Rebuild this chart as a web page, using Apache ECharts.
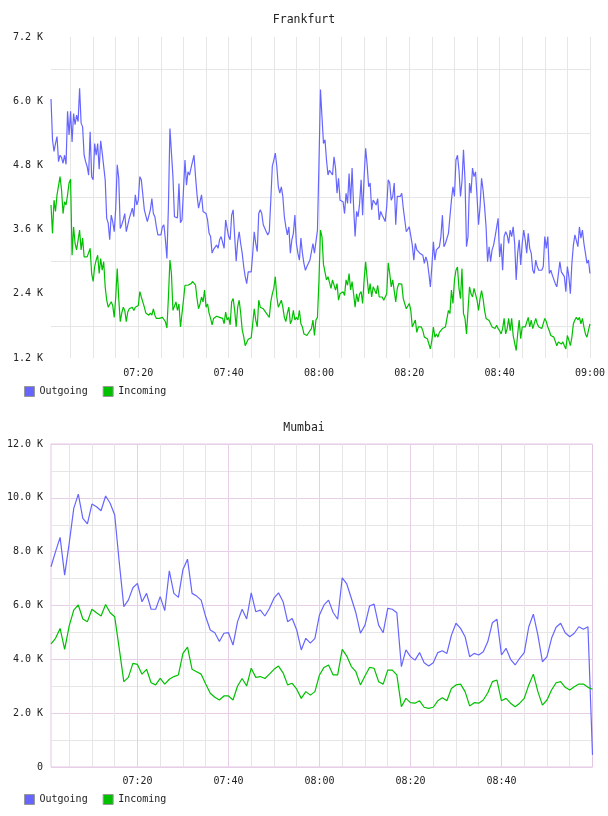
<!DOCTYPE html>
<html lang="en">
<head>
<meta charset="UTF-8">
<title>Frankfurt / Mumbai traffic</title>
<style>
  html, body { margin: 0; padding: 0; background: #fff; }
  #chart { width: 608px; height: 816px; }
</style>
</head>
<body>
<div id="chart"></div>
<script src="https://cdn.jsdelivr.net/npm/echarts@6/dist/echarts.min.js"></script>
<script>
// x values are minutes after 07:00, y values are in thousands (K)

// Frankfurt: one sample every 20 s, first one at 07:00:40
const frankfurtStart = 2 / 3
const frankfurtStep = 1 / 3
const frankfurtOutgoing = [
  6.04,5.28,5.06,5.21,5.34,4.87,4.99,4.95,4.84,4.99,
  4.82,5.81,5.37,5.81,5.24,5.77,5.56,5.74,5.62,6.24,
  5.59,5.52,4.99,4.87,4.78,4.62,5.43,4.59,4.53,5.21,
  4.99,5.21,4.73,5.26,5.04,5.04,4.53,3.81,3.72,3.41,
  3.87,3.75,3.56,4.00,4.81,4.56,3.62,3.69,3.78,3.90,
  3.56,3.59,3.81,3.90,4.00,3.84,4.25,4.06,4.15,4.59,
  4.53,4.53,3.97,3.94,3.75,3.72,3.97,4.18,3.90,3.84,
  3.65,3.50,3.53,3.50,3.65,3.69,3.41,3.06,4.03,5.49,
  5.52,4.59,3.84,3.83,3.82,4.46,3.73,3.78,4.34,4.90,
  4.43,4.68,4.62,4.75,4.87,4.99,4.59,4.25,4.00,4.00,
  4.25,3.94,3.94,3.90,3.78,3.53,3.47,3.16,3.23,3.25,
  3.31,3.25,3.41,3.47,3.50,3.25,3.78,3.79,3.47,3.41,
  3.87,3.97,3.47,3.01,3.37,3.56,3.34,3.16,2.91,2.72,
  2.59,2.81,2.84,2.81,3.16,3.56,3.34,3.19,3.90,3.97,
  3.90,3.69,3.72,3.56,3.50,3.56,4.15,4.78,4.90,5.03,
  4.78,4.40,4.28,4.40,4.22,3.84,3.65,3.50,3.65,3.16,
  3.41,3.53,3.87,3.34,3.16,3.03,3.44,3.16,2.97,2.84,
  2.91,2.97,3.03,3.06,3.34,3.16,3.16,3.59,4.84,6.22,
  5.71,5.21,5.28,4.90,4.62,4.71,4.71,4.62,4.96,4.75,
  4.28,4.56,4.15,4.15,4.12,3.90,4.28,4.09,4.65,4.09,
  4.75,4.03,3.47,3.94,3.84,4.09,4.53,3.87,4.59,5.12,
  4.81,4.40,4.47,3.97,4.15,4.12,4.06,4.18,3.78,3.94,
  3.87,3.81,3.75,4.03,4.53,4.47,4.15,4.22,4.47,3.69,
  4.22,4.25,4.22,4.28,4.00,3.78,3.56,3.53,3.65,3.62,
  3.31,3.03,3.34,3.22,3.19,3.16,3.16,3.12,2.97,3.09,
  3.00,2.78,2.53,2.91,3.37,3.03,3.22,3.25,3.28,3.47,
  3.87,3.28,3.34,3.31,3.53,3.84,4.15,4.40,4.22,4.90,
  4.99,
  4.71,4.22,4.50,5.09,4.53,3.28,3.47,4.47,4.28,4.75,
  4.59,4.68,4.22,3.69,4.03,4.56,4.34,4.03,3.65,3.00,
  3.28,3.00,3.22,3.31,3.47,3.50,3.81,3.09,3.34,2.84,
  3.47,3.56,3.50,3.34,3.59,3.47,3.65,3.34,2.66,3.16,
  3.41,2.94,3.34,3.59,3.41,3.16,3.53,3.25,3.16,2.84,
  2.78,3.03,2.91,2.84,2.87,2.84,2.91,3.47,3.25,3.47,
  2.78,2.84,2.75,2.78,2.59,2.53,2.56,3.00,2.81,2.84,
  2.72,2.44,2.91,2.72,2.40,2.97,3.31,3.50,3.53,3.28,
  3.65,3.44,3.59,3.34,3.16,2.97,3.03,2.78
]
const frankfurtIncoming = [
  4.06,3.53,4.15,3.94,4.25,4.25,4.59,4.34,3.90,4.12,
  4.06,4.25,4.47,4.54,3.12,3.65,3.34,3.22,3.25,3.59,
  3.22,3.44,3.09,3.06,3.09,3.06,3.25,2.78,2.63,2.91,
  3.03,3.12,2.78,3.06,2.84,3.00,2.53,2.28,2.15,2.12,
  2.25,2.18,1.96,2.34,2.87,2.31,1.88,2.04,2.15,2.09,
  1.88,2.06,2.12,2.15,2.15,2.09,2.15,2.15,2.18,2.44,
  2.34,2.31,2.15,2.04,2.06,2.00,2.04,2.00,2.12,2.00,
  1.94,1.91,1.94,1.91,1.96,1.92,1.88,1.76,2.34,3.03,
  2.78,2.09,2.12,2.25,2.09,2.21,1.78,1.81,2.28,2.56,
  2.56,2.56,2.56,2.59,2.63,2.63,2.56,2.31,2.12,2.21,
  2.34,2.25,2.47,2.15,2.21,2.04,1.94,1.82,1.94,1.96,
  1.98,2.00,1.96,1.96,1.94,1.84,2.06,1.91,1.96,1.82,
  2.25,2.31,2.09,1.78,2.15,2.28,2.04,1.73,1.60,1.43,
  1.40,1.55,1.58,1.58,1.84,2.12,1.91,1.78,2.28,2.15,
  2.15,2.12,2.15,2.04,2.04,1.96,2.25,2.40,2.50,2.72,
  2.34,2.15,2.15,2.28,2.15,1.96,1.88,2.04,2.15,1.84,
  1.91,2.09,1.91,1.96,1.91,2.09,1.84,1.78,1.65,1.62,
  1.62,1.65,1.71,1.75,1.91,1.62,1.91,1.96,2.65,3.59,
  3.47,2.95,2.95,2.66,2.72,2.72,2.50,2.66,2.69,2.47,
  2.59,2.28,2.40,2.37,2.44,2.37,2.66,2.56,2.78,2.47,
  2.63,2.40,2.15,2.40,2.25,2.40,2.44,2.22,2.66,3.00,
  2.69,2.40,2.59,2.34,2.53,2.47,2.40,2.56,2.34,2.37,
  2.34,2.28,2.25,2.40,2.98,2.78,2.53,2.66,2.67,2.25,
  2.50,2.59,2.60,2.58,2.31,2.31,2.12,2.15,2.22,2.09,
  1.78,1.75,1.91,1.68,1.78,1.75,1.78,1.71,1.59,1.62,
  1.56,1.53,1.37,1.53,1.78,1.59,1.65,1.59,1.68,1.71,
  1.75,1.73,1.78,1.81,2.09,2.03,2.47,2.22,2.66,2.84,
  2.90,
  2.50,2.31,2.87,2.03,1.94,1.65,2.09,2.53,2.40,2.34,
  2.50,2.53,2.28,2.09,2.31,2.46,2.31,2.09,1.94,1.91,
  1.90,1.88,1.78,1.81,1.75,1.81,1.75,1.71,1.65,1.75,
  1.94,1.65,1.75,1.94,1.71,1.94,1.62,1.65,1.34,1.65,
  1.91,1.56,1.78,1.79,1.78,1.81,1.96,1.78,1.91,1.75,
  1.78,1.94,1.84,1.78,1.81,1.75,1.78,1.94,1.88,1.78,
  1.71,1.62,1.65,1.59,1.59,1.43,1.50,1.53,1.46,1.50,
  1.43,1.37,1.62,1.53,1.43,1.59,1.84,1.91,1.96,1.91,
  1.96,1.84,1.94,1.78,1.65,1.59,1.56,1.84
]

// Mumbai: one sample per minute, first one at 07:01
const mumbaiStart = 1
const mumbaiStep = 1
const mumbaiOutgoing = [
  7.44,8.00,8.53,7.13,8.31,9.61,10.14,9.24,9.03,9.77,
  9.67,9.52,10.07,9.80,9.36,7.60,5.96,6.20,6.66,6.82,
  6.14,6.45,5.86,5.86,6.33,5.81,7.29,6.45,6.30,7.34,
  7.72,6.45,6.35,6.20,5.58,5.09,4.99,4.66,4.97,4.99,
  4.53,5.40,5.86,5.50,6.47,5.77,5.83,5.61,5.89,6.27,
  6.47,6.14,5.40,5.52,5.09,4.35,4.78,4.60,4.78,5.65,
  6.02,6.20,5.74,5.49,7.03,6.80,6.27,5.73,4.97,5.27,
  5.98,6.05,5.27,4.99,5.89,5.86,5.73,3.73,4.35,4.10,
  3.97,4.25,3.87,3.75,3.87,4.25,4.32,4.22,4.90,5.34,
  5.15,4.84,4.10,4.22,4.16,4.28,4.66,5.36,5.49,4.16,
  4.41,4.00,3.79,4.04,4.25,5.21,5.68,4.90,3.91,4.10,
  4.78,5.19,5.34,4.99,4.84,4.97,5.21,5.12,5.21,0.45
]
const mumbaiIncoming = [
  4.57,4.78,5.15,4.37,5.24,5.83,6.02,5.50,5.40,5.86,
  5.73,5.61,6.04,5.73,5.58,4.40,3.17,3.33,3.85,3.81,
  3.45,3.63,3.13,3.05,3.29,3.08,3.26,3.36,3.42,4.22,
  4.45,3.63,3.54,3.45,3.08,2.74,2.59,2.49,2.64,2.64,
  2.49,3.01,3.29,3.01,3.67,3.33,3.36,3.29,3.45,3.63,
  3.75,3.50,3.05,3.11,2.89,2.55,2.80,2.67,2.80,3.42,
  3.70,3.79,3.42,3.42,4.37,4.12,3.73,3.54,3.05,3.38,
  3.70,3.67,3.17,3.08,3.60,3.60,3.42,2.24,2.55,2.39,
  2.37,2.46,2.22,2.18,2.22,2.46,2.57,2.46,2.92,3.05,
  3.08,2.80,2.27,2.39,2.37,2.49,2.76,3.17,3.23,2.46,
  2.55,2.37,2.24,2.37,2.55,3.05,3.45,2.80,2.30,2.49,
  2.86,3.13,3.17,2.96,2.86,2.98,3.08,3.08,2.96,2.89
]

// time ticks (minutes after 07:00)
const frankfurtTimeTicks = [5,10,15,20,25,30,35,40,45,50,55,60,65,70,75,80,85,90,95,100,105,110,115,120]
const frankfurtTimeLabels = [20,40,60,80,100,120]
const mumbaiMinorTimeTicks = [5,10,15,25,30,35,45,50,55,65,70,75,85,90,95,105,110,115]
const mumbaiMajorTimeTicks = [20,40,60,80,100]
const mumbaiTimeLabels = [20,40,60,80,100]

const toPairs = (values, start, step) => values.map((v, i) => [start + i * step, v])

const mono = '"DejaVu Sans Mono", monospace'
const textColor = '#222'
const greyLine = '#e6e6e6'
const purpleLine = '#e8cfe8'

function fmtTime(v) {
  const m = Math.round(v)
  const h = 7 + Math.floor(m / 60)
  const mm = m % 60
  return String(h).padStart(2, '0') + ':' + String(mm).padStart(2, '0')
}
function fmtK(v) {
  if (Math.abs(v) < 1e-9) return '0'
  return v.toFixed(1) + ' K'
}

const labelStyle = { fontFamily: mono, fontSize: 10, color: textColor }

const myChart = echarts.init(document.getElementById('chart'))

const option = {
  animation: false,
  color: ['#6666ff', '#00c000'],
  title: [
    { text: 'Frankfurt', left: 'center', top: 9,
      textStyle: { fontFamily: mono, fontSize: 11.5, fontWeight: 'normal', color: textColor } },
    { text: 'Mumbai', left: 'center', top: 417,
      textStyle: { fontFamily: mono, fontSize: 11.5, fontWeight: 'normal', color: textColor } }
  ],
  legend: [
    { data: ['Outgoing', 'Incoming'], left: 19, top: 381, icon: 'rect',
      itemWidth: 10, itemHeight: 10, itemGap: 15,
      itemStyle: { borderColor: '#999', borderWidth: 1 },
      textStyle: labelStyle },
    { data: ['Outgoing', 'Incoming'], left: 19, top: 789, icon: 'rect',
      itemWidth: 10, itemHeight: 10, itemGap: 15,
      itemStyle: { borderColor: '#999', borderWidth: 1 },
      textStyle: labelStyle }
  ],
  grid: [
    { left: 51, right: 16.5, top: 37, height: 321 },
    { left: 51, right: 15.5, top: 444, height: 323,
      show: true, borderColor: '#e2c6e2', borderWidth: 1, backgroundColor: 'transparent' }
  ],
  xAxis: [
    {
      type: 'value', gridIndex: 0, min: frankfurtStart, max: 120,
      axisLine: { show: false },
      axisTick: { show: false, customValues: frankfurtTimeTicks },
      axisLabel: Object.assign({ customValues: frankfurtTimeLabels, formatter: fmtTime, margin: 10 }, labelStyle),
      splitLine: { show: true, lineStyle: { color: greyLine, width: 1 } }
    },
    {
      type: 'value', gridIndex: 1, min: mumbaiStart, max: 120,
      axisLine: { show: false },
      axisTick: { show: false, customValues: mumbaiMinorTimeTicks },
      axisLabel: Object.assign({ customValues: mumbaiTimeLabels, formatter: fmtTime, margin: 9 }, labelStyle),
      splitLine: { show: true, lineStyle: { color: greyLine, width: 1 } }
    },
    {
      type: 'value', gridIndex: 1, min: mumbaiStart, max: 120,
      axisLine: { show: false },
      axisTick: { show: false, customValues: mumbaiMajorTimeTicks },
      axisLabel: { show: false },
      splitLine: { show: true, lineStyle: { color: purpleLine, width: 1 } }
    }
  ],
  yAxis: [
    {
      type: 'value', gridIndex: 0, min: 1.2, max: 7.2, interval: 1.2,
      axisLine: { show: false }, axisTick: { show: false },
      axisLabel: Object.assign({ formatter: fmtK, margin: 8 }, labelStyle),
      splitLine: { show: false },
      minorTick: { show: false, splitNumber: 2 },
      minorSplitLine: { show: true, lineStyle: { color: greyLine, width: 1 } }
    },
    {
      type: 'value', gridIndex: 1, min: 0, max: 12, interval: 2,
      axisLine: { show: false }, axisTick: { show: false },
      axisLabel: Object.assign({ formatter: fmtK, margin: 8 }, labelStyle),
      splitLine: { show: true, lineStyle: { color: purpleLine, width: 1 } },
      minorTick: { show: false, splitNumber: 2 },
      minorSplitLine: { show: true, lineStyle: { color: greyLine, width: 1 } }
    }
  ],
  series: [
    { name: 'Outgoing', type: 'line', xAxisIndex: 0, yAxisIndex: 0, showSymbol: false, symbol: 'none',
      lineStyle: { width: 1.2 }, data: toPairs(frankfurtOutgoing, frankfurtStart, frankfurtStep) },
    { name: 'Incoming', type: 'line', xAxisIndex: 0, yAxisIndex: 0, showSymbol: false, symbol: 'none',
      lineStyle: { width: 1.2 }, data: toPairs(frankfurtIncoming, frankfurtStart, frankfurtStep) },
    { name: 'Outgoing', type: 'line', xAxisIndex: 1, yAxisIndex: 1, showSymbol: false, symbol: 'none',
      lineStyle: { width: 1.2 }, data: toPairs(mumbaiOutgoing, mumbaiStart, mumbaiStep) },
    { name: 'Incoming', type: 'line', xAxisIndex: 1, yAxisIndex: 1, showSymbol: false, symbol: 'none',
      lineStyle: { width: 1.2 }, data: toPairs(mumbaiIncoming, mumbaiStart, mumbaiStep) }
  ]
}

myChart.setOption(option)
</script>
</body>
</html>
